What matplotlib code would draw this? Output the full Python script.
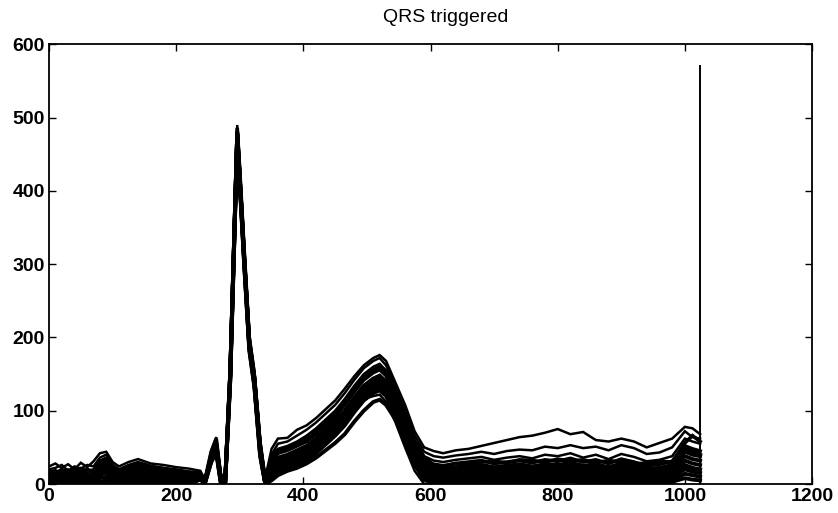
import matplotlib
matplotlib.use("Agg")
import matplotlib.pyplot as plt

# sample positions (samples after window start)
x_samples = [0, 10, 20, 30, 40, 50, 60, 70, 80, 90, 100, 110, 125, 140, 160, 180, 200, 220,
             238, 245, 255, 263, 270, 277, 285, 296, 300, 307, 315, 323, 332, 340,
             350, 360, 375, 390, 405, 420, 435, 450, 465, 480, 495, 510, 520, 530, 545, 560, 575, 590,
             605, 620, 640, 660, 680, 700, 720, 740, 760, 780, 800, 820, 840, 860, 880, 900, 920, 940,
             960, 980, 1000, 1012, 1024]

t01 = [24, 28, 22, 27, 20, 29, 23, 31, 42, 44, 30, 24, 30, 34, 28, 26, 23, 21,
       18, 6, 45, 64, 14, 8, 165, 490, 432, 322, 205, 155, 62, 8,
       48, 62, 63, 74, 80, 90, 102, 114, 130, 147, 162, 172, 176, 168, 138, 108, 72, 50,
       45, 42, 46, 48, 52, 56, 60, 64, 66, 70, 75, 68, 71, 60, 58, 62, 58, 50, 56, 62, 78, 76, 68]
t02 = [20, 22, 26, 18, 24, 21, 26, 24, 36, 40, 26, 20, 26, 30, 25, 22, 20, 17,
       16, 5, 42, 60, 12, 6, 160, 486, 428, 318, 200, 150, 58, 6,
       40, 55, 58, 66, 74, 84, 96, 108, 124, 142, 158, 168, 172, 162, 132, 100, 66, 44,
       38, 36, 39, 41, 44, 41, 45, 47, 46, 51, 49, 53, 49, 51, 46, 53, 49, 41, 43, 50, 72, 64, 62]
t03 = [16, 19, 15, 20, 16, 22, 18, 20, 32, 36, 22, 18, 22, 27, 22, 20, 17, 15,
       14, 4, 40, 58, 10, 5, 158, 484, 425, 315, 198, 148, 55, 5,
       36, 48, 52, 58, 66, 76, 88, 100, 116, 134, 150, 160, 164, 155, 126, 95, 60, 38,
       32, 30, 33, 35, 37, 33, 36, 38, 35, 40, 38, 42, 36, 40, 34, 41, 37, 31, 33, 38, 62, 58, 55]
t04 = [12, 15, 11, 16, 12, 17, 13, 15, 28, 32, 18, 14, 18, 23, 18, 16, 14, 12,
       13, 4, 38, 56, 9, 4, 155, 482, 422, 312, 195, 146, 52, 4,
       30, 42, 46, 52, 58, 68, 80, 92, 108, 126, 142, 152, 156, 148, 120, 88, 55, 33,
       27, 25, 28, 30, 32, 28, 30, 32, 29, 33, 31, 35, 30, 33, 28, 34, 30, 25, 27, 31, 52, 48, 45]
t05 = [9, 11, 8, 12, 9, 13, 10, 12, 24, 28, 15, 11, 15, 19, 15, 13, 11, 9,
       12, 3, 36, 54, 8, 4, 152, 480, 420, 310, 193, 144, 50, 3,
       26, 36, 40, 46, 52, 62, 74, 86, 100, 118, 134, 144, 148, 140, 114, 84, 50, 30,
       22, 20, 23, 25, 26, 23, 25, 27, 24, 27, 26, 29, 25, 27, 23, 28, 25, 21, 22, 26, 44, 40, 38]
t06 = [6, 8, 5, 9, 6, 10, 7, 9, 20, 24, 12, 8, 12, 16, 12, 10, 8, 7,
       11, 3, 35, 52, 7, 3, 150, 478, 418, 308, 192, 142, 48, 3,
       22, 32, 36, 42, 48, 58, 70, 82, 96, 114, 130, 140, 144, 136, 110, 80, 46, 26,
       18, 16, 19, 21, 22, 19, 21, 22, 20, 23, 22, 24, 21, 23, 19, 23, 21, 17, 18, 22, 38, 34, 32]
t07 = [4, 5, 3, 6, 4, 7, 5, 6, 16, 20, 9, 6, 9, 13, 10, 8, 6, 5,
       10, 2, 34, 50, 6, 3, 148, 476, 416, 306, 190, 140, 46, 2,
       18, 28, 32, 38, 44, 54, 66, 78, 92, 110, 126, 136, 140, 132, 106, 76, 42, 22,
       14, 12, 15, 17, 18, 15, 17, 18, 16, 19, 18, 20, 17, 19, 15, 19, 17, 13, 14, 18, 32, 28, 26]
t08 = [2, 3, 1, 3, 2, 4, 3, 4, 12, 16, 6, 4, 6, 10, 7, 6, 4, 3,
       9, 2, 33, 48, 5, 2, 146, 474, 414, 304, 188, 138, 44, 2,
       15, 24, 28, 34, 40, 50, 62, 74, 88, 106, 122, 132, 136, 128, 102, 72, 38, 18,
       10, 9, 11, 13, 14, 11, 13, 14, 12, 15, 14, 16, 13, 15, 11, 15, 13, 10, 11, 14, 26, 22, 20]
t09 = [1, 1, 0, 1, 1, 2, 1, 2, 8, 10, 3, 2, 3, 6, 4, 3, 2, 2,
       8, 1, 32, 46, 4, 2, 144, 472, 412, 302, 186, 136, 42, 1,
       12, 20, 24, 30, 36, 46, 58, 70, 84, 102, 118, 128, 132, 124, 98, 68, 34, 14,
       7, 6, 8, 9, 10, 8, 9, 10, 8, 11, 10, 12, 9, 11, 8, 11, 9, 7, 8, 10, 20, 17, 15]
t10 = [0, 0, 0, 0, 0, 0, 0, 0, 3, 5, 1, 0, 0, 2, 1, 0, 0, 0,
       7, 1, 30, 44, 3, 1, 142, 470, 410, 300, 184, 134, 40, 1,
       9, 16, 20, 26, 32, 42, 54, 66, 80, 98, 114, 124, 128, 120, 94, 64, 30, 10,
       4, 3, 5, 6, 6, 5, 6, 6, 5, 7, 6, 8, 6, 7, 5, 7, 6, 4, 5, 6, 14, 12, 10]
t11 = [0, 0, 0, 0, 0, 0, 0, 0, 0, 0, 0, 0, 0, 0, 0, 0, 0, 0,
       6, 0, 30, 42, 2, 0, 140, 468, 408, 298, 182, 132, 38, 0,
       5, 12, 18, 22, 28, 36, 46, 56, 68, 85, 100, 112, 115, 108, 88, 58, 26, 6,
       1, 0, 2, 2, 3, 2, 2, 3, 2, 3, 3, 4, 2, 3, 2, 3, 2, 1, 2, 3, 8, 6, 5]
t12 = [14, 10, 18, 12, 16, 10, 15, 12, 26, 30, 20, 15, 20, 24, 20, 18, 15, 12,
       13, 4, 40, 58, 9, 5, 152, 480, 420, 310, 192, 142, 48, 2,
       20, 30, 34, 40, 46, 56, 66, 78, 92, 106, 116, 120, 122, 112, 84, 50, 18, 0,
       2, 4, 6, 8, 7, 9, 8, 10, 9, 11, 10, 12, 9, 11, 8, 12, 10, 8, 9, 12, 22, 18, 16]
t13 = [18, 14, 20, 15, 22, 16, 20, 17, 30, 34, 24, 17, 24, 28, 23, 21, 18, 16,
       15, 5, 44, 62, 11, 6, 158, 486, 428, 318, 198, 148, 56, 6,
       34, 46, 50, 56, 62, 72, 84, 96, 112, 130, 146, 156, 160, 152, 124, 92, 58, 36,
       26, 24, 28, 27, 30, 31, 29, 33, 32, 30, 34, 31, 33, 29, 32, 30, 27, 29, 31, 30, 56, 66, 58]
t14 = [10, 13, 9, 14, 10, 15, 11, 13, 22, 26, 17, 12, 17, 21, 17, 15, 12, 10,
       12, 3, 37, 55, 8, 4, 150, 478, 418, 308, 192, 144, 50, 3,
       24, 34, 38, 44, 50, 60, 72, 84, 98, 116, 132, 142, 146, 138, 112, 82, 48, 28,
       20, 18, 21, 23, 24, 21, 23, 24, 22, 25, 24, 27, 23, 25, 21, 26, 23, 19, 20, 24, 48, 44, 40]

traces = [t01, t02, t03, t04, t05, t06, t07, t08, t09, t10, t11, t12, t13, t14]
# line width per trace: the dense lower bundle is drawn heavier so it merges
trace_widths = [1.8, 1.8, 1.8, 2.6, 2.8, 2.8, 2.8, 2.8, 2.8, 2.8, 2.8, 1.8, 2.6, 2.8]

end_spike_x = 1024
end_spike_top = 570

x_ticks = [0, 200, 400, 600, 800, 1000, 1200]
y_ticks = [0, 100, 200, 300, 400, 500, 600]

plt.rcParams['font.family'] = ['Liberation Sans', 'DejaVu Sans']

fig = plt.figure(figsize=(8.38, 5.13), dpi=100)
ax = fig.add_axes([0.0585, 0.0565, 0.9105, 0.857])

for tr, lw in zip(traces, trace_widths):
    ax.plot(x_samples, tr, color='black', linewidth=lw, solid_joinstyle='miter')
ax.plot([end_spike_x, end_spike_x], [0, end_spike_top], color='black', linewidth=1.4)

ax.set_xlim(0, 1200)
ax.set_ylim(0, 600)
ax.set_xticks(x_ticks)
ax.set_yticks(y_ticks)
ax.tick_params(direction='in', top=True, right=True, length=5, width=1.0,
               labelsize=14, pad=3)
for lab in ax.get_xticklabels() + ax.get_yticklabels():
    lab.set_fontweight('bold')
for s in ax.spines.values():
    s.set_linewidth(1.3)
ax.set_title('QRS triggered', fontsize=14, pad=16, x=0.52)

fig.savefig('out.png', dpi=100)
